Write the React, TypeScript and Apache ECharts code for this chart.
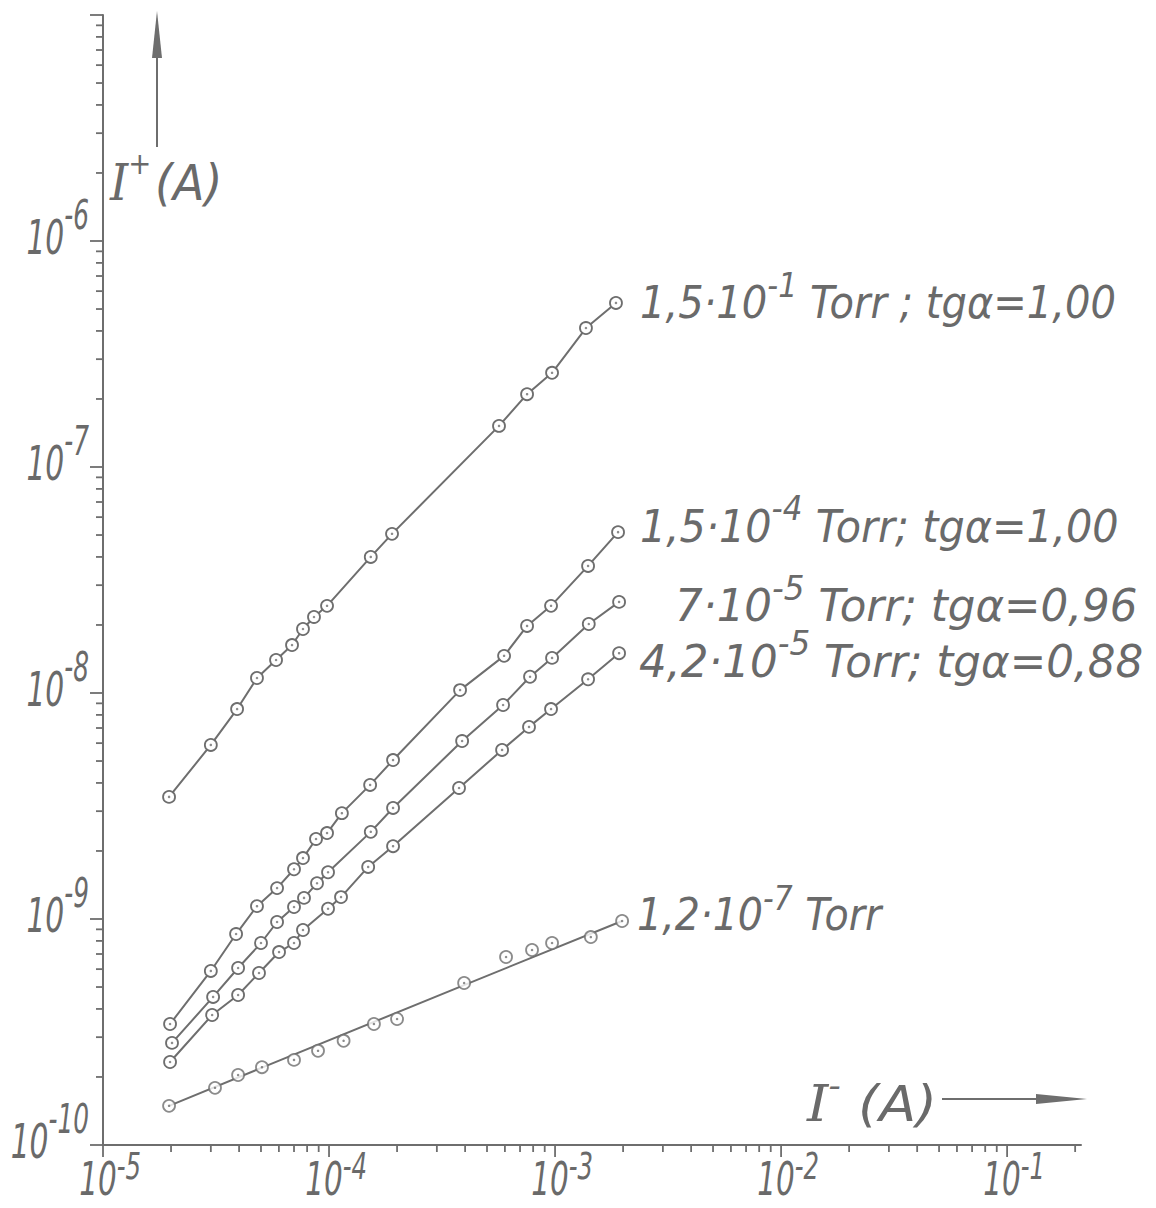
import { useEffect, useRef } from "react";
import * as echarts from "echarts";

// Ion current I+ against electron current I- (both in A), log-log, five gas pressures.

// 1,5·10^-1 Torr
const p1X = [1.96e-5, 3.0e-5, 3.92e-5, 4.8e-5, 5.83e-5, 6.86e-5, 7.67e-5, 8.58e-5, 9.8e-5, 1.53e-4, 1.9e-4, 5.65e-4, 7.52e-4, 9.7e-4, 1.37e-3, 1.86e-3];
const p1Y = [3.47e-9, 5.89e-9, 8.49e-9, 1.165e-8, 1.4e-8, 1.63e-8, 1.92e-8, 2.17e-8, 2.43e-8, 4.0e-8, 5.06e-8, 1.52e-7, 2.1e-7, 2.61e-7, 4.12e-7, 5.32e-7];

// 1,5·10^-4 Torr
const p2X = [1.98e-5, 3.0e-5, 3.88e-5, 4.8e-5, 5.89e-5, 7.0e-5, 7.67e-5, 8.76e-5, 9.8e-5, 1.14e-4, 1.52e-4, 1.92e-4, 3.8e-4, 5.95e-4, 7.52e-4, 9.6e-4, 1.4e-3, 1.9e-3];
const p2Y = [3.43e-10, 5.89e-10, 8.58e-10, 1.14e-9, 1.37e-9, 1.66e-9, 1.86e-9, 2.26e-9, 2.4e-9, 2.94e-9, 3.92e-9, 5.05e-9, 1.03e-8, 1.46e-8, 1.98e-8, 2.43e-8, 3.65e-8, 5.15e-8];

// 7·10^-5 Torr
const p3X = [2.02e-5, 3.07e-5, 3.96e-5, 5.0e-5, 5.89e-5, 7.0e-5, 7.75e-5, 8.85e-5, 9.9e-5, 1.53e-4, 1.92e-4, 3.88e-4, 5.89e-4, 7.75e-4, 9.7e-4, 1.41e-3, 1.92e-3];
const p3Y = [2.83e-10, 4.52e-10, 6.07e-10, 7.83e-10, 9.7e-10, 1.13e-9, 1.24e-9, 1.44e-9, 1.61e-9, 2.43e-9, 3.1e-9, 6.13e-9, 8.85e-9, 1.18e-8, 1.43e-8, 2.02e-8, 2.53e-8];

// 4,2·10^-5 Torr
const p4X = [1.98e-5, 3.04e-5, 3.96e-5, 4.9e-5, 6.01e-5, 7.0e-5, 7.67e-5, 9.9e-5, 1.13e-4, 1.49e-4, 1.92e-4, 3.76e-4, 5.83e-4, 7.67e-4, 9.6e-4, 1.4e-3, 1.92e-3];
const p4Y = [2.33e-10, 3.76e-10, 4.61e-10, 5.77e-10, 7.14e-10, 7.83e-10, 8.94e-10, 1.11e-9, 1.25e-9, 1.7e-9, 2.1e-9, 3.8e-9, 5.6e-9, 7.08e-9, 8.49e-9, 1.15e-8, 1.5e-8];

// 1,2·10^-7 Torr (measured points and the straight line drawn through them)
const p5X = [1.96e-5, 3.13e-5, 3.96e-5, 5.05e-5, 7.0e-5, 8.94e-5, 1.16e-4, 1.58e-4, 2.0e-4, 3.96e-4, 6.07e-4, 7.91e-4, 9.7e-4, 1.44e-3, 1.98e-3];
const p5Y = [1.49e-10, 1.79e-10, 2.04e-10, 2.21e-10, 2.38e-10, 2.61e-10, 2.89e-10, 3.43e-10, 3.61e-10, 5.21e-10, 6.79e-10, 7.29e-10, 7.83e-10, 8.32e-10, 9.8e-10];
const p5FitX = [1.96e-5, 5.05e-5, 3.96e-4, 1.98e-3];
const p5FitY = [1.49e-10, 2.2e-10, 5.1e-10, 9.8e-10];

// Axis ranges and decade labels
const X_MIN = 1e-5;
const X_MAX = 0.2123;
const Y_MIN = 1e-10;
const Y_MAX = 1e-5;
const xDecades = [-5, -4, -3, -2, -1];
const yDecades = [-10, -9, -8, -7, -6];
const xTickExp = ["-5", "-4", "-3", "-2", "-1"];
const yTickExp = ["-10", "-9", "-8", "-7", "-6"];

type Part = { t: string; sup?: boolean; serif?: boolean; gap?: number };

const curveLabels: Part[][] = [
  [{ t: "1,5·10" }, { t: "-1", sup: true }, { t: " Torr ; tgα=1,00" }],
  [{ t: "1,5·10" }, { t: "-4", sup: true }, { t: " Torr; tgα=1,00" }],
  [{ t: "7·10" }, { t: "-5", sup: true }, { t: " Torr; tgα=0,96" }],
  [{ t: "4,2·10" }, { t: "-5", sup: true }, { t: " Torr; tgα=0,88" }],
  [{ t: "1,2·10" }, { t: "-7", sup: true }, { t: " Torr" }],
];
const yName: Part[] = [{ t: "I", serif: true }, { t: "+", sup: true }, { t: "(A)", gap: 4 }];
const xName: Part[] = [{ t: "I", serif: true }, { t: "-", sup: true }, { t: "(A)", gap: 16 }];

// Placement of the curve captions relative to each curve's last point
const captionLayout = [
  { dx: 24, dy: 0, sx: 0.91 },
  { dx: 22, dy: -6, sx: 0.94 },
  { dx: 56, dy: 4, sx: 0.99 },
  { dx: 20, dy: 8, sx: 0.99 },
  { dx: 15, dy: -6, sx: 0.9 },
];

const INK = "#6e6e6e";
const TEXT = "#6a6a6a";
const SANS = "DejaVu Sans";
const SERIF = "DejaVu Serif";

const zip = (xs: number[], ys: number[]) => xs.map((x, i) => [x, ys[i]]);

function decadeTicks(decades: number[], max: number) {
  const out: { v: number; major: number }[] = [];
  for (const e of decades) {
    for (let m = 1; m <= 9; m++) {
      const v = m * Math.pow(10, e);
      if (v <= max * 1.0001) out.push({ v, major: m === 1 ? 1 : 0 });
    }
  }
  return out;
}

let measureCtx: CanvasRenderingContext2D | null = null;
function measure(text: string, size: number, family: string) {
  if (!measureCtx) measureCtx = document.createElement("canvas").getContext("2d");
  measureCtx!.font = `italic ${size}px "${family}"`;
  return measureCtx!.measureText(text).width;
}

function label(
  parts: Part[],
  o: { x: number; y: number; size: number; supSize: number; rise: number; sx: number; align: "left" | "right" | "firstCenter" }
) {
  let cx = 0;
  const kids: any[] = [];
  let firstW = 0;
  parts.forEach((p, i) => {
    const size = p.sup ? o.supSize : o.size;
    const fam = p.serif ? SERIF : SANS;
    cx += p.gap || 0;
    const w = measure(p.t, size, fam);
    if (i === 0) firstW = w;
    kids.push({
      type: "text",
      x: cx,
      y: p.sup ? -o.rise : 0,
      silent: true,
      style: {
        text: p.t,
        fontSize: size,
        fontFamily: fam,
        fontStyle: "italic",
        lineHeight: Math.round(size * 0.85),
        fill: TEXT,
        align: "left",
        verticalAlign: "middle",
      },
    });
    cx += w;
  });
  const shift = o.align === "left" ? 0 : o.align === "right" ? cx : firstW / 2;
  return { type: "group", x: o.x - shift * o.sx, y: o.y, scaleX: o.sx, children: kids };
}

const xTicks = decadeTicks(xDecades, X_MAX);
const yTicks = [...decadeTicks(yDecades, Y_MAX), { v: Y_MAX, major: 1 }];

const markerStyle = { color: "#ffffff", borderColor: INK, borderWidth: 1.8 };
const lineStyle = { color: INK, width: 2 };

const curves = [zip(p1X, p1Y), zip(p2X, p2Y), zip(p3X, p3Y), zip(p4X, p4Y)];
const lowCurve = zip(p5X, p5Y);
const allPoints = [...curves.flat(), ...lowCurve];

const option: any = {
  animation: false,
  backgroundColor: "#ffffff",
  grid: { left: 103, right: 75, top: 15, bottom: 63, containLabel: false, outerBoundsMode: "none" },
  xAxis: {
    type: "log",
    logBase: 10,
    min: X_MIN,
    max: X_MAX,
    axisLine: { show: true, onZero: false, lineStyle: { color: INK, width: 2 } },
    axisTick: { show: false },
    axisLabel: { show: false },
    splitLine: { show: false },
  },
  yAxis: {
    type: "log",
    logBase: 10,
    min: Y_MIN,
    max: Y_MAX,
    axisLine: { show: true, onZero: false, lineStyle: { color: INK, width: 2 } },
    axisTick: { show: false },
    axisLabel: { show: false },
    splitLine: { show: false },
  },
  series: [
    ...curves.map((d) => ({
      type: "line",
      data: d,
      symbol: "circle",
      symbolSize: 12,
      showSymbol: true,
      showAllSymbol: true,
      lineStyle,
      itemStyle: markerStyle,
      emphasis: { disabled: true },
      z: 3,
    })),
    {
      type: "line",
      data: zip(p5FitX, p5FitY),
      symbol: "none",
      lineStyle,
      emphasis: { disabled: true },
      z: 3,
    },
    {
      type: "scatter",
      data: lowCurve,
      symbol: "circle",
      symbolSize: 12,
      itemStyle: markerStyle,
      emphasis: { disabled: true },
      z: 4,
    },
    {
      type: "scatter",
      data: allPoints,
      symbol: "circle",
      symbolSize: 2.5,
      itemStyle: { color: INK },
      silent: true,
      z: 5,
    },
    {
      type: "custom",
      clip: false,
      silent: true,
      data: xTicks.map((t) => [t.v, Y_MIN, t.major]),
      renderItem: (_p: any, api: any) => {
        const p = api.coord([api.value(0), api.value(1)]);
        const len = api.value(2) ? 12 : 7;
        return {
          type: "line",
          shape: { x1: p[0], y1: p[1], x2: p[0], y2: p[1] + len },
          style: { stroke: INK, lineWidth: 1.8 },
        };
      },
      z: 2,
    },
    {
      type: "custom",
      clip: false,
      silent: true,
      data: yTicks.map((t) => [X_MIN, t.v, t.major]),
      renderItem: (_p: any, api: any) => {
        const p = api.coord([api.value(0), api.value(1)]);
        const len = api.value(2) ? 13 : 7;
        return {
          type: "line",
          shape: { x1: p[0], y1: p[1], x2: p[0] - len, y2: p[1] },
          style: { stroke: INK, lineWidth: 1.8 },
        };
      },
      z: 2,
    },
  ],
};

function buildGraphics(chart: echarts.ECharts) {
  const toPx = (v: number[]) => chart.convertToPixel({ gridIndex: 0 }, v) as number[];
  const els: any[] = [];

  xDecades.forEach((e, i) => {
    const p = toPx([Math.pow(10, e), Y_MIN]);
    els.push(
      label([{ t: "10" }, { t: xTickExp[i], sup: true }], {
        x: p[0] - 5,
        y: p[1] + 34,
        size: 46,
        supSize: 38,
        rise: 13,
        sx: 0.64,
        align: "firstCenter",
      })
    );
  });

  yDecades.forEach((e, i) => {
    const p = toPx([X_MIN, Math.pow(10, e)]);
    els.push(
      label([{ t: "10" }, { t: yTickExp[i], sup: true }], {
        x: 89,
        y: p[1] - 4,
        size: 48,
        supSize: 40,
        rise: 22,
        sx: 0.62,
        align: "right",
      })
    );
  });

  const ends = [
    curves[0][curves[0].length - 1],
    curves[1][curves[1].length - 1],
    curves[2][curves[2].length - 1],
    curves[3][curves[3].length - 1],
    lowCurve[lowCurve.length - 1],
  ];
  ends.forEach((pt, i) => {
    const p = toPx(pt);
    const L = captionLayout[i];
    els.push(
      label(curveLabels[i], {
        x: p[0] + L.dx,
        y: p[1] + L.dy,
        size: 44,
        supSize: 33,
        rise: 17,
        sx: L.sx,
        align: "left",
      })
    );
  });

  // axis names with their arrows
  els.push(label(yName, { x: 110, y: 182, size: 50, supSize: 30, rise: 18, sx: 0.92, align: "left" }));
  els.push(label(xName, { x: 807, y: 1104, size: 50, supSize: 32, rise: 18, sx: 1.08, align: "left" }));
  els.push({ type: "line", silent: true, shape: { x1: 157, y1: 147, x2: 157, y2: 40 }, style: { stroke: INK, lineWidth: 2 } });
  els.push({ type: "polygon", silent: true, shape: { points: [[157, 11], [162, 58], [152, 58]] }, style: { fill: INK } });
  els.push({ type: "line", silent: true, shape: { x1: 942, y1: 1099, x2: 1045, y2: 1099 }, style: { stroke: INK, lineWidth: 2 } });
  els.push({ type: "polygon", silent: true, shape: { points: [[1087, 1099], [1036, 1094], [1036, 1104]] }, style: { fill: INK } });

  return els;
}

export default function App() {
  const ref = useRef<HTMLDivElement>(null);
  useEffect(() => {
    document.body.style.margin = "0";
    const chart = echarts.init(ref.current!, undefined, { renderer: "svg" });
    chart.setOption(option);
    chart.setOption({ graphic: buildGraphics(chart) });
    return () => chart.dispose();
  }, []);
  return <div ref={ref} style={{ width: 1156, height: 1208 }} />;
}
